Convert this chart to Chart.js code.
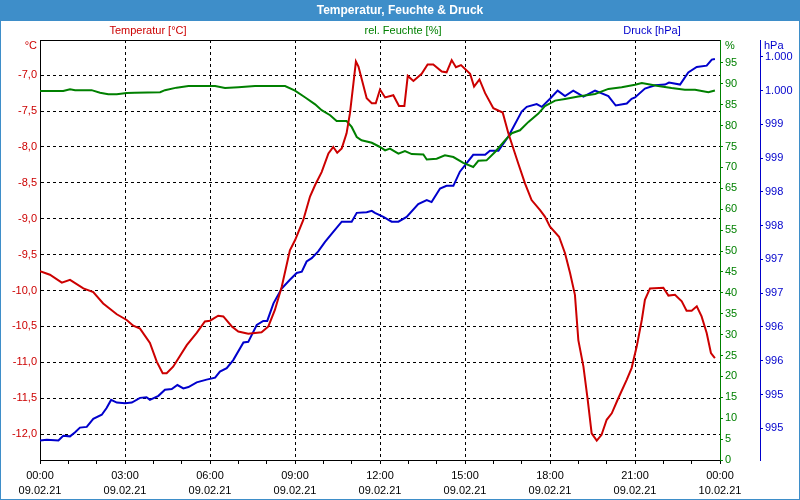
<!DOCTYPE html>
<html>
<head>
<meta charset="utf-8">
<script src="https://cdn.jsdelivr.net/npm/chart.js@4/dist/chart.umd.min.js"></script>
<style>
  html, body { margin: 0; padding: 0; background: #fff; }
  #wrap { width: 800px; height: 500px; }
</style>
</head>
<body>
<div id="wrap"><canvas id="chart" width="800" height="500"></canvas></div>
<script>
// ---- data (hours since 09.02.21 00:00) ----
const tempHours = [0, 0.35, 0.77, 1.06, 1.53, 1.88, 2.23, 2.71, 3.06, 3.29, 3.53, 3.88, 4.12, 4.33, 4.47, 4.7,
  5.18, 5.53, 5.82, 6.0, 6.29, 6.47, 6.77, 7.0, 7.35, 7.82, 8.06, 8.29, 8.53, 8.82, 9.0, 9.29, 9.53, 9.71,
  9.94, 10.18, 10.35, 10.49, 10.65, 10.82, 10.94, 11.06, 11.15, 11.24, 11.53, 11.71, 11.85, 12.0, 12.18,
  12.47, 12.67, 12.86, 12.98, 13.18, 13.47, 13.68, 13.88, 14.18, 14.35, 14.53, 14.68, 14.86, 15.18, 15.32,
  15.51, 15.71, 16.0, 16.33, 16.53, 16.88, 17.12, 17.35, 17.65, 17.82, 18.0, 18.32, 18.53, 18.71, 18.88,
  19.0, 19.18, 19.33, 19.47, 19.65, 19.82, 20.0, 20.18, 20.41, 20.71, 20.88, 21.06, 21.24, 21.35, 21.53,
  22.0, 22.18, 22.41, 22.65, 22.82, 23.0, 23.18, 23.35, 23.53, 23.68, 23.82];
const tempValues = [-9.73, -9.78, -9.89, -9.85, -9.97, -10.02, -10.18, -10.33, -10.41, -10.49, -10.53, -10.73,
  -10.99, -11.15, -11.15, -11.06, -10.76, -10.59, -10.43, -10.42, -10.35, -10.36, -10.5, -10.57, -10.6,
  -10.58, -10.5, -10.27, -9.95, -9.44, -9.3, -9.02, -8.69, -8.53, -8.35, -8.09, -8.0, -8.08, -8.02, -7.81,
  -7.53, -7.12, -6.81, -6.88, -7.32, -7.39, -7.39, -7.2, -7.31, -7.28, -7.43, -7.43, -7.01, -7.08, -6.98,
  -6.85, -6.85, -6.95, -6.96, -6.79, -6.89, -6.86, -6.98, -7.16, -7.06, -7.25, -7.46, -7.52, -7.81, -8.23,
  -8.51, -8.74, -8.88, -8.97, -9.11, -9.25, -9.48, -9.76, -10.06, -10.69, -11.06, -11.52, -11.99, -12.09,
  -12.01, -11.8, -11.71, -11.5, -11.24, -11.08, -10.78, -10.41, -10.13, -9.97, -9.96, -10.07, -10.06,
  -10.15, -10.28, -10.28, -10.22, -10.36, -10.59, -10.87, -10.94];

const humHours = [0, 0.82, 1.06, 1.24, 1.82, 2.12, 2.41, 2.71, 3.06, 3.35, 4.24, 4.41, 4.82, 5.24, 6.18, 6.53,
  7.0, 7.59, 8.65, 9.0, 9.35, 9.71, 9.94, 10.24, 10.47, 10.82, 11.0, 11.18, 11.35, 11.71, 12.0, 12.18, 12.35,
  12.65, 12.88, 13.12, 13.53, 13.65, 14.0, 14.29, 14.59, 14.94, 15.29, 15.47, 15.76, 16.06, 16.41, 16.65,
  16.94, 17.24, 17.59, 17.82, 18.18, 18.53, 19.0, 19.59, 20.06, 20.53, 21.0, 21.24, 21.82, 22.29, 22.76,
  23.12, 23.59, 23.82];
const humValues = [88.3, 88.3, 88.7, 88.5, 88.5, 87.9, 87.5, 87.5, 87.8, 87.9, 88.0, 88.5, 89.1, 89.5, 89.5,
  89.0, 89.2, 89.5, 89.5, 88.4, 86.8, 85.1, 83.7, 82.5, 81.1, 81.1, 79.7, 77.3, 76.5, 75.9, 74.9, 74.1, 74.5,
  73.3, 73.9, 73.2, 73.1, 71.9, 72.1, 72.9, 72.5, 71.1, 70.1, 71.6, 71.7, 73.7, 76.5, 78.2, 78.9, 80.9,
  82.9, 84.7, 86.0, 86.4, 87.0, 87.6, 88.8, 89.2, 89.8, 90.2, 89.5, 89.0, 88.6, 88.6, 88.0, 88.4];

const pressHours = [0, 0.24, 0.65, 0.82, 1.06, 1.24, 1.41, 1.65, 1.88, 2.18, 2.35, 2.51, 2.71, 3.0, 3.24, 3.53,
  3.76, 3.88, 4.18, 4.41, 4.65, 4.85, 5.06, 5.24, 5.53, 5.88, 6.18, 6.35, 6.59, 6.82, 7.18, 7.35, 7.65, 7.88,
  8.02, 8.24, 8.53, 8.82, 9.06, 9.24, 9.41, 9.59, 9.82, 10.06, 10.35, 10.65, 11.0, 11.18, 11.53, 11.71,
  11.82, 12.12, 12.41, 12.65, 12.94, 13.35, 13.65, 13.82, 14.12, 14.35, 14.59, 14.82, 15.29, 15.71, 15.88,
  16.18, 16.53, 17.0, 17.18, 17.53, 17.71, 18.0, 18.27, 18.53, 18.82, 19.18, 19.59, 20.06, 20.32, 20.71,
  20.88, 21.0, 21.35, 21.71, 22.06, 22.2, 22.59, 22.88, 23.18, 23.53, 23.71, 23.82];
const pressValues = [994.32, 994.33, 994.32, 994.39, 994.38, 994.44, 994.51, 994.52, 994.64, 994.70, 994.80,
  994.92, 994.88, 994.87, 994.88, 994.95, 994.96, 994.92, 994.98, 995.07, 995.08, 995.14, 995.09, 995.11,
  995.18, 995.22, 995.25, 995.34, 995.39, 995.51, 995.77, 995.78, 996.03, 996.09, 996.09, 996.35, 996.57,
  996.70, 996.80, 996.82, 996.97, 997.02, 997.12, 997.26, 997.41, 997.56, 997.56, 997.69, 997.70, 997.72,
  997.69, 997.63, 997.56, 997.56, 997.63, 997.82, 997.88, 997.85, 998.05, 998.09, 998.09, 998.30, 998.55,
  998.55, 998.61, 998.61, 998.82, 999.19, 999.26, 999.30, 999.26, 999.38, 999.50, 999.42, 999.50, 999.41,
  999.50, 999.42, 999.28, 999.31, 999.38, 999.40, 999.53, 999.58, 999.59, 999.62, 999.59, 999.77, 999.85,
  999.87, 999.96, 999.97];

// ---- tick labels ----
const xTimeLabels = ['00:00', '03:00', '06:00', '09:00', '12:00', '15:00', '18:00', '21:00', '00:00'];
const xDateLabels = ['09.02.21', '09.02.21', '09.02.21', '09.02.21', '09.02.21', '09.02.21', '09.02.21', '09.02.21', '10.02.21'];
const tempTicks = [-12.0, -11.5, -11.0, -10.5, -10.0, -9.5, -9.0, -8.5, -8.0, -7.5, -7.0];
const humTicks = [0, 5, 10, 15, 20, 25, 30, 35, 40, 45, 50, 55, 60, 65, 70, 75, 80, 85, 90, 95];
const pressTicks = [994.5, 995.0, 995.5, 996.0, 996.5, 997.0, 997.5, 998.0, 998.5, 999.0, 999.5, 1000.0];

const colors = {
  temp: '#cc0000',
  hum: '#008000',
  press: '#0000cc',
  bar: '#3e8ec9',
  grid: '#000000'
};
const tickFont = { family: "'Liberation Sans', Arial, sans-serif", size: 11 };

function toPoints(hours, values) {
  return hours.map((h, i) => ({ x: h, y: values[i] }));
}

function fmtPressure(v) {
  const n = Math.round(v);
  return n >= 1000 ? Math.floor(n / 1000) + '.' + String(n % 1000).padStart(3, '0') : String(n);
}

// title bar, frame, unit labels and series captions
const decorations = {
  id: 'decorations',
  beforeDraw(chart) {
    const { ctx } = chart;
    ctx.save();
    ctx.fillStyle = colors.bar;
    ctx.fillRect(0, 0, chart.width, 21);
    ctx.fillStyle = '#fff';
    ctx.font = "bold 12px 'Liberation Sans', Arial, sans-serif";
    ctx.textAlign = 'center';
    ctx.textBaseline = 'middle';
    ctx.fillText('Temperatur, Feuchte & Druck', 400, 11);

    ctx.font = "11px 'Liberation Sans', Arial, sans-serif";
    ctx.fillStyle = colors.temp;
    ctx.fillText('Temperatur [°C]', 148, 31);
    ctx.fillStyle = colors.hum;
    ctx.fillText('rel. Feuchte [%]', 403, 31);
    ctx.fillStyle = colors.press;
    ctx.fillText('Druck [hPa]', 652, 31);

    ctx.textAlign = 'right';
    ctx.fillStyle = colors.temp;
    ctx.fillText('°C', 37, 46);
    ctx.textAlign = 'left';
    ctx.fillStyle = colors.hum;
    ctx.fillText('%', 725, 46);
    ctx.fillStyle = colors.press;
    ctx.fillText('hPa', 764, 46);
    ctx.restore();
  },
  afterDraw(chart) {
    const { ctx, chartArea } = chart;
    ctx.save();
    ctx.strokeStyle = '#000';
    ctx.lineWidth = 1;
    ctx.beginPath();
    ctx.moveTo(chartArea.left, chartArea.top + 0.5);
    ctx.lineTo(chartArea.right, chartArea.top + 0.5);
    ctx.stroke();
    ctx.strokeStyle = colors.bar;
    ctx.strokeRect(0.5, 0.5, chart.width - 1, chart.height - 1);
    ctx.restore();
  }
};

new Chart(document.getElementById('chart'), {
  type: 'line',
  data: {
    datasets: [
      {
        label: 'Temperatur [°C]',
        data: toPoints(tempHours, tempValues),
        borderColor: colors.temp,
        borderWidth: 2,
        pointRadius: 0,
        tension: 0,
        yAxisID: 'yTemp'
      },
      {
        label: 'rel. Feuchte [%]',
        data: toPoints(humHours, humValues),
        borderColor: colors.hum,
        borderWidth: 2,
        pointRadius: 0,
        tension: 0,
        yAxisID: 'yHum'
      },
      {
        label: 'Druck [hPa]',
        data: toPoints(pressHours, pressValues),
        borderColor: colors.press,
        borderWidth: 2,
        pointRadius: 0,
        tension: 0,
        yAxisID: 'yPress'
      }
    ]
  },
  options: {
    responsive: false,
    animation: false,
    devicePixelRatio: 1,
    layout: { padding: { top: 40, left: 0, right: 0, bottom: 0 } },
    plugins: {
      legend: { display: false },
      title: { display: false },
      tooltip: { enabled: false }
    },
    scales: {
      x: {
        type: 'linear',
        position: 'bottom',
        min: 0,
        max: 24,
        afterFit: (scale) => { scale.height = 40; },
        ticks: {
          stepSize: 1,
          autoSkip: false,
          maxRotation: 0,
          padding: 4,
          color: '#000',
          font: { ...tickFont, lineHeight: 1.42 },
          callback: (value) => (value % 3 === 0 ? [xTimeLabels[value / 3], xDateLabels[value / 3]] : '')
        },
        grid: {
          color: (ctx) => {
            const v = ctx.tick ? ctx.tick.value : 0;
            return v % 3 === 0 && v > 0 && v < 24 ? colors.grid : 'rgba(0,0,0,0)';
          },
          tickColor: '#000',
          tickLength: 4,
          lineWidth: 1
        },
        border: { color: '#000', width: 1, dash: [3, 3] }
      },
      yTemp: {
        type: 'linear',
        position: 'left',
        min: -12.36,
        max: -6.51,
        afterFit: (scale) => { scale.width = 40; },
        afterBuildTicks: (axis) => { axis.ticks = tempTicks.map(v => ({ value: v })); },
        ticks: {
          padding: 3,
          color: colors.temp,
          font: tickFont,
          callback: (value) => value.toFixed(1).replace('.', ',')
        },
        grid: { color: colors.grid, drawTicks: false, lineWidth: 1 },
        border: { color: '#000', width: 1, dash: [3, 3] }
      },
      yHum: {
        type: 'linear',
        position: 'right',
        min: 0,
        max: 100.5,
        afterFit: (scale) => { scale.width = 40; },
        afterBuildTicks: (axis) => { axis.ticks = humTicks.map(v => ({ value: v })); },
        ticks: { padding: 2, color: colors.hum, font: tickFont },
        grid: { drawOnChartArea: false, tickColor: colors.hum, tickLength: 3 },
        border: { color: colors.hum, width: 1 }
      },
      yPress: {
        type: 'linear',
        position: 'right',
        min: 994.03,
        max: 1000.25,
        afterFit: (scale) => { scale.width = 40; },
        afterBuildTicks: (axis) => { axis.ticks = pressTicks.map(v => ({ value: v })); },
        ticks: {
          padding: 2,
          color: colors.press,
          font: tickFont,
          callback: (value) => fmtPressure(value)
        },
        grid: { drawOnChartArea: false, tickColor: colors.press, tickLength: 3 },
        border: { color: colors.press, width: 1 }
      }
    }
  },
  plugins: [decorations]
});
</script>
</body>
</html>
